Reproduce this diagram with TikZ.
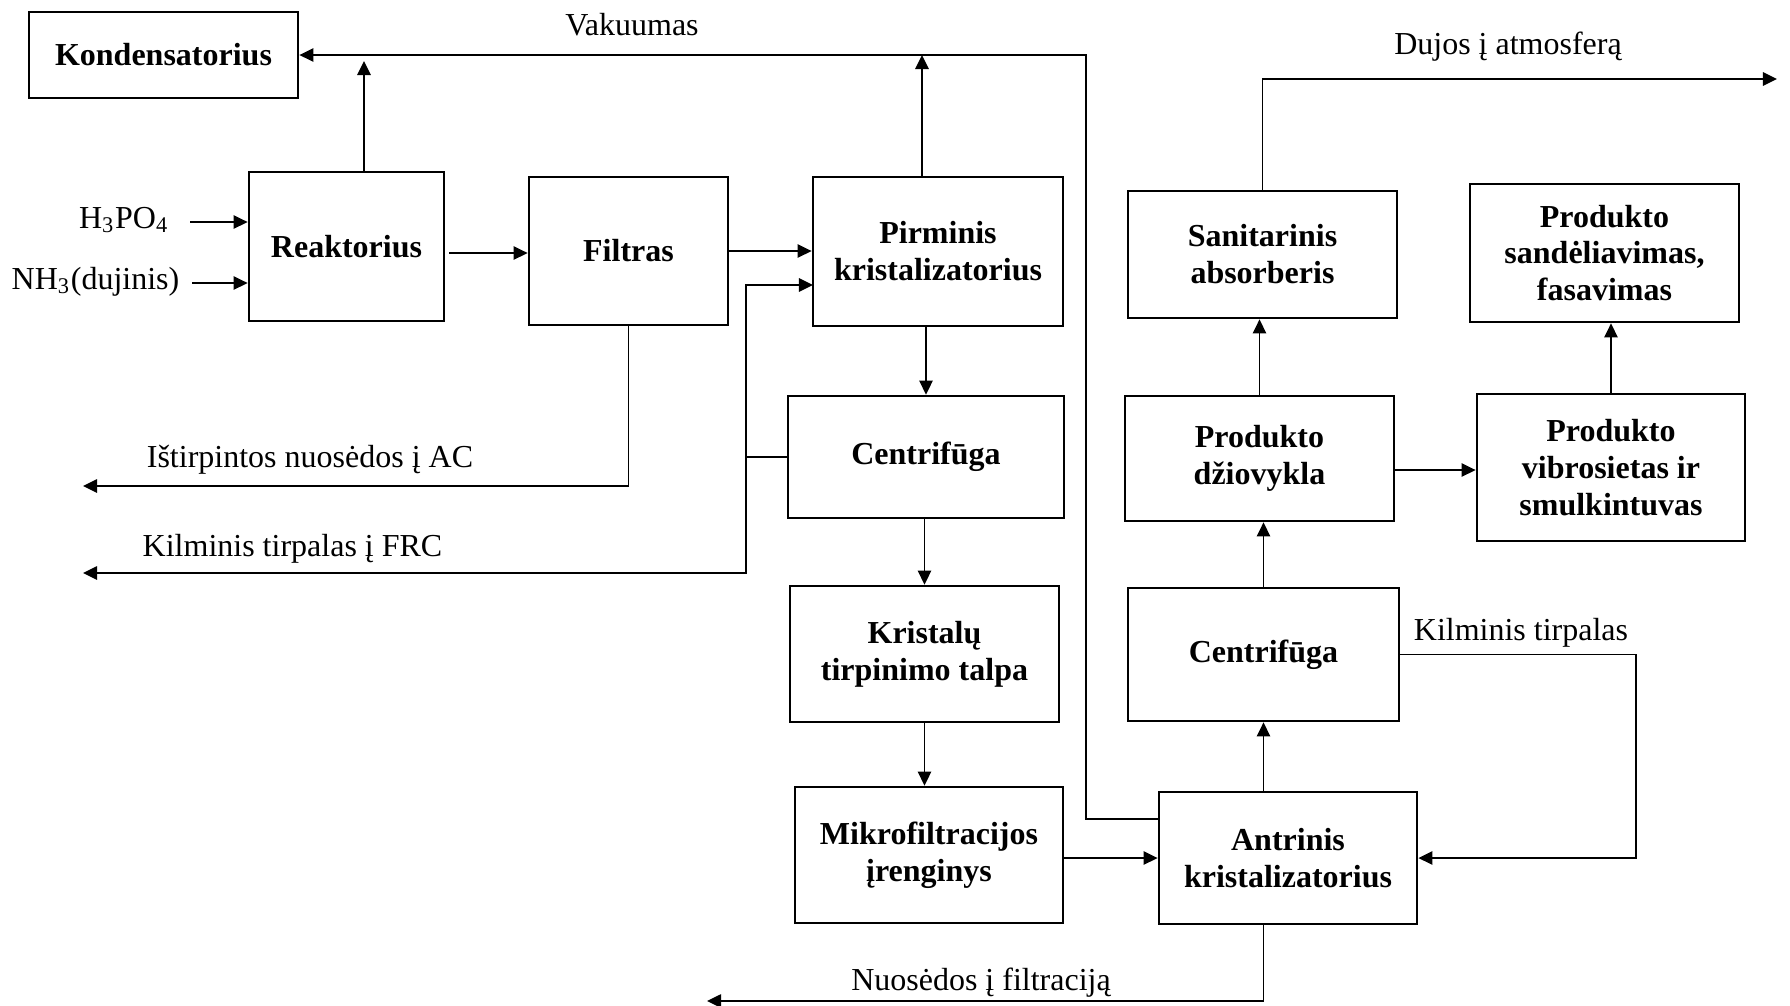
\documentclass[tikz,border=0pt]{standalone}
\usepackage{fontspec}
\setmainfont{Liberation Serif}
\usetikzlibrary{arrows.meta}
\tikzset{
  blk/.style  = {draw, line width=0.75pt, align=center, inner sep=2pt,
                 font=\fontsize{9.1}{10.5}\selectfont\bfseries},
  flow/.style = {-{Triangle[length=4pt,width=3.8pt]}, line width=0.5pt},
  lbl/.style  = {font=\fontsize{9.1}{10.5}\selectfont, inner sep=1pt}
}

\begin{document}
\begin{tikzpicture}[x=0.01cm,y=-0.01cm]
  \useasboundingbox (0,0) rectangle (1790,1005);
  % process blocks
  \node[blk,minimum width=2.69cm,minimum height=0.86cm] (kond) at (163.5,55) {Kondensatorius};
  \node[blk,minimum width=1.95cm,minimum height=1.49cm] (reak) at (346.5,246.5) {Reaktorius};
  \node[blk,minimum width=1.99cm,minimum height=1.48cm] (filt) at (628.5,251) {Filtras};
  \node[blk,minimum width=2.50cm,minimum height=1.49cm] (pirm) at (938,251.5) {Pirminis\\kristalizatorius};
  \node[blk,minimum width=2.76cm,minimum height=1.22cm] (cent1) at (926,457) {Centrifūga};
  \node[blk,minimum width=2.69cm,minimum height=1.36cm] (krist) at (924.5,654) {Kristalų\\tirpinimo talpa};
  \node[blk,minimum width=2.68cm,minimum height=1.36cm] (mikro) at (929,855) {Mikrofiltracijos\\įrenginys};
  \node[blk,minimum width=2.58cm,minimum height=1.32cm] (antr) at (1288,858) {Antrinis\\kristalizatorius};
  \node[blk,minimum width=2.71cm,minimum height=1.33cm] (cent2) at (1263.5,654.5) {Centrifūga};
  \node[blk,minimum width=2.69cm,minimum height=1.25cm] (dziov) at (1259.5,458.5) {Produkto\\džiovykla};
  \node[blk,minimum width=2.69cm,minimum height=1.27cm] (sanit) at (1262.5,254.5) {Sanitarinis\\absorberis};
  \node[blk,minimum width=2.69cm,minimum height=1.38cm] (sand) at (1604.5,253) {Produkto\\sandėliavimas,\\fasavimas};
  \node[blk,minimum width=2.68cm,minimum height=1.47cm] (vibro) at (1611,467.5) {Produkto\\vibrosietas ir\\smulkintuvas};

  % stream labels
  \node[lbl] (vak) at (632,25) {Vakuumas};
  \node[lbl] (h3) at (124,220) {H\textsubscript{3}PO\textsubscript{4}};
  \node[lbl] (nh3) at (95.5,282) {NH\textsubscript{3}(dujinis)};
  \node[lbl] (ist) at (310,460) {Ištirpintos nuosėdos į AC};
  \node[lbl] (frc) at (292.5,549) {Kilminis tirpalas į FRC};
  \node[lbl] (duj) at (1508,47) {Dujos į atmosferą};
  \node[lbl] (kil) at (1521,633) {Kilminis tirpalas};
  \node[lbl] (nuo) at (981,983) {Nuosėdos į filtraciją};

  % free ends and bends
  \coordinate (h3s) at (190,222);
  \coordinate (nh3s) at (192,283);
  \coordinate (rfs) at (449,253);
  \coordinate (ru) at (364,172);
  \coordinate (rut) at (364,61);
  \coordinate (pu) at (922,177);
  \coordinate (vs) at (1159,819);
  \coordinate (vtop) at (1086,55);
  \coordinate (istend) at (83,486);
  \coordinate (kj) at (746,457);
  \coordinate (kin) at (813,285);
  \coordinate (frcend) at (83,573);
  \coordinate (dujend) at (1777,79);
  \coordinate (kx) at (1636,654.5);
  \coordinate (dvs) at (1394,470);
  \coordinate (nuoend) at (707,1001);

  % connectors
  \draw[flow] (h3s) -- (h3s -| reak.west);
  \draw[flow] (nh3s) -- (nh3s -| reak.west);
  \draw[flow] (rfs) -- (rfs -| filt.west);
  \draw[flow] (ru) -- (rut);
  \draw[flow] (filt.east) -- (filt.east -| pirm.west);
  \draw[flow] (pu) -- (pu |- vtop);
  \draw[flow] (vs) -| (vtop) -- (kond.east);
  \draw[flow] (filt.south) |- (istend);
  \draw (cent1.west) -- (kj);
  \draw[flow] (kj) |- (kin);
  \draw[flow] (kj) |- (frcend);
  \draw[flow] (pirm.south -| cent1) -- (cent1.north);
  \draw[flow] (cent1.south -| krist) -- (krist.north);
  \draw[flow] (krist.south) -- (krist.south |- mikro.north);
  \draw[flow] (mikro.east |- antr) -- (antr.west);
  \draw[flow] (antr.north -| cent2) -- (cent2.south);
  \draw[flow] (cent2.north) -- (cent2.north |- dziov.south);
  \draw[flow] (dziov.north) -- (dziov.north |- sanit.south);
  \draw[flow] (sanit.north) |- (dujend);
  \draw[flow] (dvs) -- (dvs -| vibro.west);
  \draw[flow] (vibro.north) -- (vibro.north |- sand.south);
  \draw[flow] (cent2.east) -- (kx) |- (antr.east);
  \draw[flow] (antr.south -| cent2) |- (nuoend);
\end{tikzpicture}
\end{document}
